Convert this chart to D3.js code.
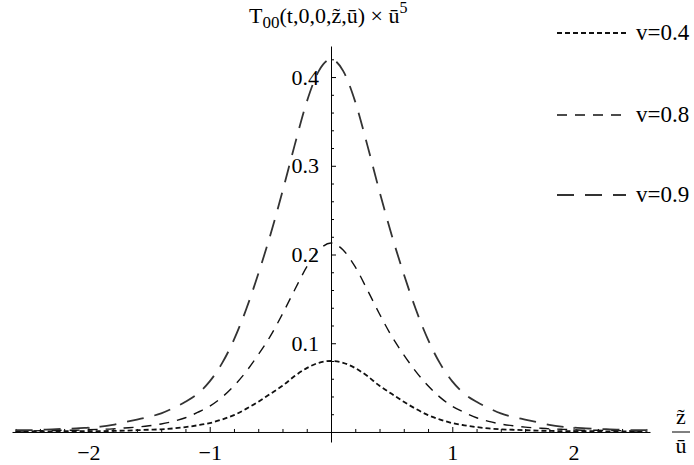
<!DOCTYPE html>
<html>
<head>
<meta charset="utf-8">
<script src="https://cdn.jsdelivr.net/npm/d3@7"></script>
<style>
body { margin: 0; background: #fff; }
text { font-family: "Liberation Serif", "Times New Roman", "DejaVu Serif", serif; fill: #000; }
</style>
</head>
<body>
<div id="chart"></div>
<script>
let width = 694,
height = 465;

// z~/u grid
let zVals = [-2.6,-2.5,-2.4,-2.3,-2.2,-2.1,-2.0,-1.9,-1.8,-1.7,-1.6,-1.5,-1.4,-1.3,-1.2,-1.1,-1.0,-0.9,-0.8,-0.7,-0.6,-0.5,-0.4,-0.3,-0.2,-0.1,
  0,0.1,0.2,0.3,0.4,0.5,0.6,0.7,0.8,0.9,1.0,1.1,1.2,1.3,1.4,1.5,1.6,1.7,1.8,1.9,2.0,2.1,2.2,2.3,2.4,2.5,2.6];

let v04 = [0.0005,0.0006,0.0006,0.0007,0.0008,0.0009,0.001,0.001,0.0012,0.0015,0.002,0.0025,0.003,0.004,0.0055,0.0075,0.010,0.014,0.019,0.026,0.034,0.043,0.052,0.063,0.072,0.078,
  0.080,0.078,0.072,0.063,0.052,0.043,0.034,0.026,0.019,0.014,0.010,0.0075,0.0055,0.004,0.003,0.0025,0.002,0.0015,0.0012,0.001,0.001,0.0009,0.0008,0.0007,0.0006,0.0006,0.0005];

let v08 = [0.001,0.001,0.0015,0.0015,0.002,0.002,0.0025,0.003,0.0035,0.0045,0.0055,0.007,0.009,0.012,0.016,0.022,0.029,0.039,0.052,0.068,0.087,0.108,0.133,0.160,0.186,0.205,
  0.213,0.205,0.186,0.160,0.133,0.108,0.087,0.068,0.052,0.039,0.029,0.022,0.016,0.012,0.009,0.007,0.0055,0.0045,0.0035,0.003,0.0025,0.002,0.002,0.0015,0.0015,0.001,0.001];

let v09 = [0.002,0.002,0.0025,0.003,0.0035,0.004,0.005,0.006,0.008,0.011,0.014,0.017,0.021,0.027,0.034,0.043,0.057,0.077,0.104,0.138,0.178,0.222,0.271,0.323,0.372,0.407,
  0.420,0.407,0.372,0.323,0.271,0.222,0.178,0.138,0.104,0.077,0.057,0.043,0.034,0.027,0.021,0.017,0.014,0.011,0.008,0.006,0.005,0.004,0.0035,0.003,0.0025,0.002,0.002];

let seriesNames = ["v=0.4", "v=0.8", "v=0.9"];
let seriesData = [v04, v08, v09];

let xTicks = [-2, -1, 1, 2];
let yTicks = [0.1, 0.2, 0.3, 0.4];

let styles = [
  { dash: "5,3", w: 1.8, color: "#111" },
  { dash: "10,8", w: 1.4, color: "#111" },
  { dash: "17,11", w: 1.8, color: "#333" }
];

let svg = d3.select("#chart")
.append("svg")
.attr("width", width)
.attr("height", height);

let x = d3.scaleLinear()
.domain([-2.63, 2.63])
.range([12, 650]);

let y = d3.scaleLinear()
.domain([-0.0113, 0.435])
.range([442, 46]);

// minor ticks
let xMinor = d3.range(-26, 27, 2).map(d => d / 10).filter(d => Math.abs(d - Math.round(d)) > 1e-6);
let yMinor = d3.range(1, 22).map(d => d / 50).filter(d => Math.abs(d * 10 - Math.round(d * 10)) > 1e-6);

svg.append("g")
.attr("transform", "translate(0," + y(0) + ")")
.call(d3.axisBottom(x).tickValues(xMinor).tickSizeInner(-3).tickSizeOuter(0).tickFormat(""))
.call(g => g.select(".domain").remove());

let xAxis = svg.append("g")
.attr("transform", "translate(0," + y(0) + ")")
.call(d3.axisBottom(x).tickValues(xTicks).tickSizeInner(-5).tickSizeOuter(0).tickPadding(12)
  .tickFormat(d => d < 0 ? "\u2212" + Math.abs(d) : d));
xAxis.attr("font-family", null).attr("font-size", null);
xAxis.selectAll("text").style("font-size", "22px");

svg.append("g")
.attr("transform", "translate(" + x(0) + ",0)")
.call(d3.axisLeft(y).tickValues(yMinor).tickSizeInner(-3).tickSizeOuter(0).tickFormat(""))
.call(g => g.select(".domain").remove());

let yAxis = svg.append("g")
.attr("transform", "translate(" + x(0) + ",0)")
.call(d3.axisLeft(y).tickValues(yTicks).tickSizeInner(-5).tickSizeOuter(0).tickPadding(12)
  .tickFormat(d3.format(".1f")));
yAxis.attr("font-family", null).attr("font-size", null);
yAxis.selectAll("text").style("font-size", "22px");

svg.selectAll(".domain, .tick line").attr("stroke", "#000").attr("stroke-width", 1);

// curves
let line = d3.line()
.x((d, i) => x(zVals[i]))
.y(d => y(d))
.curve(d3.curveMonotoneX);

svg.append("g").selectAll("path")
.data(seriesData)
.enter().append("path")
.attr("d", line)
.attr("fill", "none")
.attr("stroke", (d, i) => styles[i].color)
.attr("stroke-width", (d, i) => styles[i].w)
.attr("stroke-dasharray", (d, i) => styles[i].dash);

// legend
let legendY = [33, 115, 195];
let legend = svg.append("g");
seriesNames.forEach((name, i) => {
  legend.append("line")
  .attr("x1", 557).attr("x2", 626)
  .attr("y1", legendY[i]).attr("y2", legendY[i])
  .attr("stroke", styles[i].color)
  .attr("stroke-width", styles[i].w)
  .attr("stroke-dasharray", styles[i].dash);
  legend.append("text")
  .attr("x", 636).attr("y", legendY[i] + 7)
  .style("font-size", "23px")
  .text(name);
});

// title
let title = svg.append("text")
.attr("x", 249).attr("y", 23)
.style("font-size", "22px");
title.append("tspan").text("T");
title.append("tspan").attr("dy", 5).style("font-size", "17px").text("00");
title.append("tspan").attr("dy", -5).text("(t,0,0,z\u0303,\u016B)\u00A0\u00D7\u00A0\u016B");
title.append("tspan").attr("dy", -10).style("font-size", "16px").text("5");

// axis label z~/u
svg.append("text")
.attr("x", 681).attr("y", 424)
.attr("text-anchor", "middle")
.style("font-size", "22px")
.text("z\u0303");
svg.append("line")
.attr("x1", 672).attr("x2", 690)
.attr("y1", 432).attr("y2", 432)
.attr("stroke", "#000").attr("stroke-width", 1);
svg.append("text")
.attr("x", 681).attr("y", 453)
.attr("text-anchor", "middle")
.style("font-size", "22px")
.text("\u016B");
</script>
</body>
</html>
